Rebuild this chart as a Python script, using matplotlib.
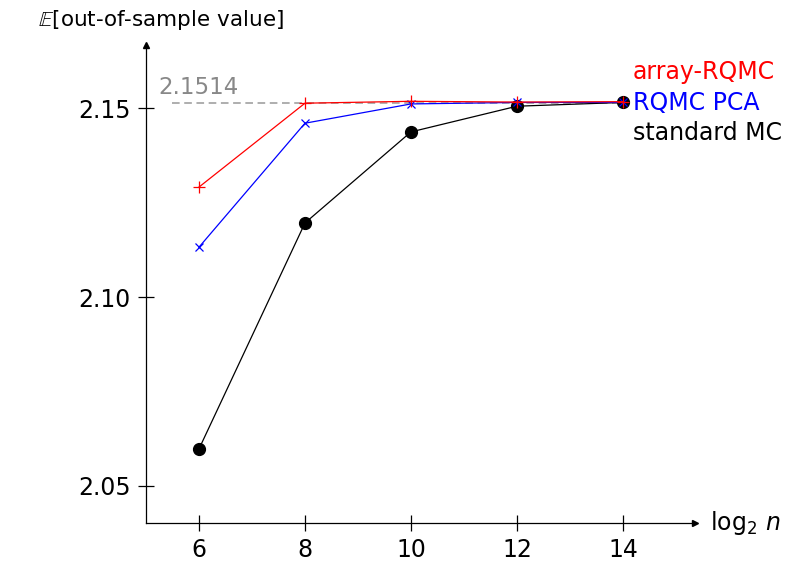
import matplotlib.pyplot as plt

# datos
log2_n = [6, 8, 10, 12, 14]
array_rqmc = [2.1291, 2.1513, 2.1518, 2.1516, 2.1517]
rqmc_pca = [2.1132, 2.1460, 2.1511, 2.1515, 2.1515]
standard_mc = [2.0598, 2.1196, 2.1437, 2.1505, 2.1515]
ref_value = 2.1514
series_names = ["array-RQMC", "RQMC PCA", "standard MC"]
x_ticks = [6, 8, 10, 12, 14]
y_ticks = [2.05, 2.10, 2.15]

plt.rcParams['font.family'] = ['DejaVu Sans']
plt.rcParams['mathtext.fontset'] = 'dejavusans'

fig = plt.figure(figsize=(7.92, 5.64), dpi=100)
ax = fig.add_axes([146 / 792, 41 / 564, 549 / 792, 478 / 564])
ax.set_xlim(5, 15.36)
ax.set_ylim(2.0402, 2.1667)

# ejes con flecha
for s in ['top', 'right']:
    ax.spines[s].set_visible(False)
for s in ['left', 'bottom']:
    ax.spines[s].set_linewidth(0.9)
ax.plot(1, 0, ">k", transform=ax.transAxes, clip_on=False, markersize=5)
ax.plot(0, 1, "^k", transform=ax.transAxes, clip_on=False, markersize=5)

ax.set_xticks(x_ticks)
ax.set_xticklabels([str(t) for t in x_ticks])
ax.set_yticks(y_ticks)
ax.set_yticklabels(["%.2f" % t for t in y_ticks])
ax.tick_params(direction='inout', length=12, width=0.9, labelsize=17)
ax.tick_params(axis='x', pad=5)
ax.tick_params(axis='y', pad=5)

# linea de referencia
ax.plot([5.5, 14], [ref_value, ref_value], color='#999999', linestyle=(0, (5, 3)), linewidth=1.1)
ax.text(5.24, ref_value + 0.0011, str(ref_value), color='#888888', fontsize=16.5, va='bottom', ha='left')

ax.plot(log2_n, standard_mc, color='black', marker='o', markersize=8.5, linewidth=0.9)
ax.plot(log2_n, rqmc_pca, color='blue', marker='x', markersize=6, markeredgewidth=0.9, linewidth=0.9)
ax.plot(log2_n, array_rqmc, color='red', marker='+', markersize=8, markeredgewidth=0.9, linewidth=0.9)

# etiquetas al final de las curvas
ax.annotate(series_names[0], (log2_n[-1], ref_value), xytext=(10, 31), textcoords='offset pixels',
            color='red', fontsize=17, va='center', ha='left')
ax.annotate(series_names[1], (log2_n[-1], ref_value), xytext=(10, 0), textcoords='offset pixels',
            color='blue', fontsize=17, va='center', ha='left')
ax.annotate(series_names[2], (log2_n[-1], ref_value), xytext=(10, -30), textcoords='offset pixels',
            color='black', fontsize=17, va='center', ha='left')

fig.text(745 / 792, 1 - 523 / 564, r'$\log_2\, n$', fontsize=17, va='center', ha='center')
fig.text(38 / 792, 1 - 20 / 564, r'$\mathbb{E}$[out-of-sample value]', fontsize=15.5, va='center', ha='left')

fig.savefig("out.png", dpi=100)
